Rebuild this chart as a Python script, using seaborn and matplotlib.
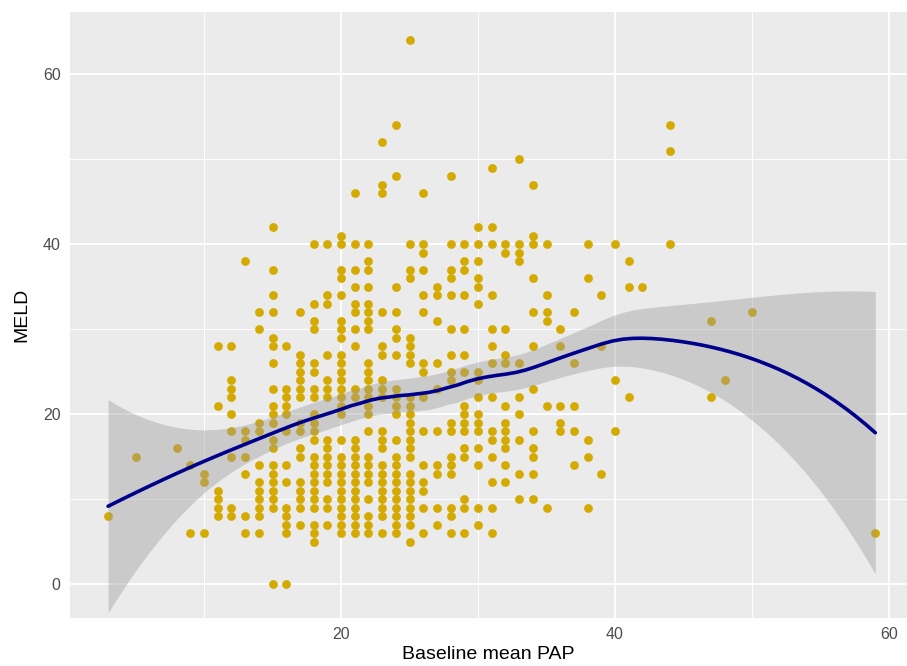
import numpy as np
import pandas as pd
import matplotlib
matplotlib.use("Agg")
import matplotlib.pyplot as plt
import seaborn as sns

# ---- data (Baseline mean PAP -> MELD values) ----
pap_levels = [3, 5, 8, 9, 10, 11, 12, 13, 14, 15, 16, 17, 18, 19, 20, 21, 22, 23,
              24, 25, 26, 27, 28, 29, 30, 31, 32, 33, 34, 35, 36, 37, 38, 39, 40,
              41, 42, 44, 47, 48, 50, 59]
meld_groups = [
    [8],
    [15],
    [16],
    [14, 6],
    [13, 12, 6],
    [28, 21, 11, 10, 9, 8],
    [28, 24, 23, 22, 20, 18, 15, 9, 8],
    [38, 18, 17, 15, 13, 8, 6],
    [32, 30, 19, 18, 14, 12, 11, 10, 9, 8, 6],
    [42, 37, 34, 32, 29, 28, 26, 23, 21, 20, 19, 17, 16, 14, 13, 12, 11, 10, 9, 0],
    [28, 23, 22, 21, 20, 18, 14, 12, 9, 8, 7, 6, 0],
    [32, 27, 26, 25, 24, 23, 22, 19, 18, 16, 15, 12, 11, 10, 9, 7],
    [40, 33, 31, 30, 26, 25, 23, 22, 20, 19, 18, 17, 15, 14, 13, 12, 11, 10, 9, 7, 6, 5],
    [40, 34, 33, 27, 24, 23, 22, 17, 16, 15, 14, 13, 12, 10, 9, 7],
    [41, 40, 37, 36, 34, 31, 30, 29, 27, 26, 25, 24, 23, 22, 21, 20, 17, 15, 14, 13,
     12, 11, 10, 9, 8, 7, 6],
    [46, 40, 37, 35, 33, 32, 30, 28, 23, 22, 17, 16, 15, 14, 13, 12, 11, 10, 9, 8, 7, 6],
    [40, 38, 37, 35, 33, 32, 31, 30, 26, 25, 24, 23, 22, 21, 20, 18, 15, 14, 13, 12,
     10, 8, 7, 6],
    [52, 47, 46, 32, 28, 27, 24, 23, 22, 18, 17, 16, 14, 13, 12, 11, 10, 9, 8, 6],
    [54, 48, 35, 32, 30, 29, 27, 23, 22, 21, 20, 17, 15, 14, 13, 12, 11, 10, 9, 8, 7, 6],
    [64, 40, 37, 36, 29, 28, 27, 26, 22, 21, 20, 19, 18, 17, 16, 15, 13, 12, 11, 10,
     9, 8, 7, 5],
    [46, 40, 39, 37, 34, 32, 26, 25, 22, 18, 14, 12, 11, 9, 6],
    [35, 34, 31, 26, 23, 18, 14, 13, 9, 7],
    [48, 40, 37, 36, 34, 30, 27, 25, 24, 19, 18, 15, 14, 13, 9, 8, 6],
    [40, 38, 37, 34, 30, 27, 25, 21, 20, 19, 18, 16, 15, 10, 9, 6],
    [42, 40, 38, 36, 35, 33, 25, 24, 22, 20, 19, 18, 16, 14, 9, 7],
    [49, 42, 40, 34, 30, 28, 26, 22, 18, 17, 15, 12, 9, 6],
    [40, 39, 30, 27, 26, 21, 19, 18, 17, 16, 14, 12],
    [50, 40, 39, 38, 26, 22, 20, 17, 13, 10],
    [47, 41, 40, 36, 32, 28, 23, 18, 16, 15, 13, 10],
    [40, 34, 32, 31, 21, 9],
    [30, 28, 21, 19, 18],
    [32, 26, 21, 18, 14],
    [40, 36, 17, 15, 9],
    [34, 28, 13],
    [40, 24, 18],
    [38, 35, 22],
    [35],
    [54, 51, 40],
    [31, 22],
    [24],
    [32],
    [6],
]
x_ticks = [20, 40, 60]
y_ticks = [0, 20, 40, 60]
x_label = "Baseline mean PAP"
y_label = "MELD"

pap = np.concatenate([[p] * len(g) for p, g in zip(pap_levels, meld_groups)]).astype(float)
meld = np.concatenate(meld_groups).astype(float)
df = pd.DataFrame({x_label: pap, y_label: meld})


# ---- loess (degree 2, span 0.75) with standard errors, like ggplot's geom_smooth ----
def loess_rows(x, x0s, span=0.75):
    n = len(x)
    q = int(np.floor(n * span))
    rows = []
    for x0 in x0s:
        d = np.abs(x - x0)
        h = np.sort(d)[q - 1]
        u = np.clip(d / h, 0, 1)
        w = (1 - u ** 3) ** 3
        X = np.column_stack([np.ones(n), x - x0, (x - x0) ** 2])
        XtW = X.T * w
        A = XtW @ X
        rows.append(np.linalg.solve(A, XtW)[0])
    return np.array(rows)


x = df[x_label].values
y = df[y_label].values
L_data = loess_rows(x, x)
resid = y - L_data @ y
M = np.eye(len(x)) - L_data
delta1 = np.trace(M.T @ M)
sigma = np.sqrt(np.sum(resid ** 2) / delta1)

grid = np.linspace(x.min(), x.max(), 80)
L_grid = loess_rows(x, grid)
fit = L_grid @ y
se = sigma * np.sqrt(np.sum(L_grid ** 2, axis=1))
tq = 1.965
smooth = pd.DataFrame({"x": grid, "fit": fit, "lo": fit - tq * se, "hi": fit + tq * se})

# ---- styling (ggplot2 theme_grey look) ----
sns.set_theme(style="darkgrid", rc={
    "axes.facecolor": "#EBEBEB",
    "figure.facecolor": "white",
    "grid.color": "white",
    "axes.edgecolor": "#EBEBEB",
})
plt.rcParams["font.family"] = ["Liberation Sans", "DejaVu Sans"]

# pixel geometry: y=0 at 584 px, 8.5 px per unit; x=0 at 67 px, 13.7 px per unit
px_left, px_right, px_top, px_bottom = 69.7, 907.0, 12.0, 618.0
fig = plt.figure(figsize=(9.07, 6.66), dpi=100)
ax = fig.add_axes([px_left / 907, (666 - px_bottom) / 666,
                   (px_right - px_left) / 907, (px_bottom - px_top) / 666])

sns.scatterplot(data=df, x=x_label, y=y_label, ax=ax, color="#D4AA00",
                s=40, linewidth=0, alpha=1, zorder=3)
ax.fill_between(smooth["x"], smooth["lo"], smooth["hi"], color="#999999",
                alpha=0.4, linewidth=0, zorder=4)
sns.lineplot(data=smooth, x="x", y="fit", ax=ax, color="#00008B", linewidth=2.6,
             zorder=5)

ax.set_xlim((px_left - 67) / 13.7, (px_right - 67) / 13.7)
ax.set_ylim((584 - px_bottom) / 8.5, (584 - px_top) / 8.5)
ax.set_xticks(x_ticks)
ax.set_yticks(y_ticks)
ax.set_xticks([10, 30, 50], minor=True)
ax.set_yticks([10, 30, 50], minor=True)
ax.grid(which="major", color="white", linewidth=1.3)
ax.grid(which="minor", color="white", linewidth=0.7)
ax.tick_params(axis="both", which="major", length=3.5, width=1.1, color="#333333",
               labelsize=11.5, labelcolor="#4D4D4D", pad=3)
ax.tick_params(axis="both", which="minor", length=0)
for sp in ax.spines.values():
    sp.set_visible(False)
ax.set_xlabel(x_label, fontsize=14, color="black", labelpad=3)
ax.set_ylabel(y_label, fontsize=14, color="black", labelpad=9)

fig.savefig("out.png", dpi=100)
